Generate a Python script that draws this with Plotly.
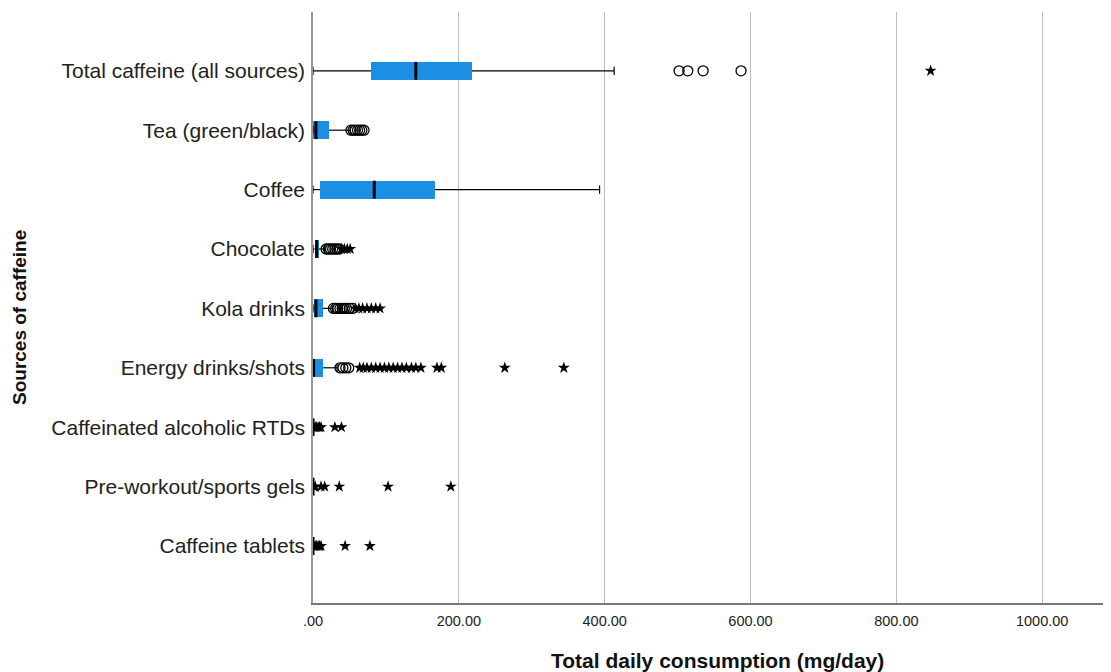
import plotly.graph_objects as go

# Categories (bottom to top in plot order)
categories = [
    "Caffeine tablets",
    "Pre-workout/sports gels",
    "Caffeinated alcoholic RTDs",
    "Energy drinks/shots",
    "Kola drinks",
    "Chocolate",
    "Coffee",
    "Tea (green/black)",
    "Total caffeine (all sources)",
]

# Box statistics (mg/day)
lower_whisker = [0, 0, 0, 0, 0, 0, 0, 0, 0]
q1 = [0, 0, 0, 0, 1, 2.5, 9.5, 0.5, 79.5]
median = [0, 0, 0, 0.8, 4, 5, 84, 4, 141]
q3 = [0, 0, 0, 14, 13.5, 8, 167, 22, 218]
upper_whisker = [0, 0, 0, 33, 27, 16, 393, 51, 413]

# Outliers (circles) and extremes (stars)
outliers = [
    [],
    [],
    [],
    [37, 41, 45, 49],
    [28, 31, 34, 37, 40, 43, 46, 50, 54],
    [18, 21, 24, 27, 30, 33, 36],
    [],
    [52, 55, 58, 61, 64, 67, 70],
    [502, 514, 535, 587],
]
extremes = [
    [1, 3, 5, 7, 9, 11, 44, 78],
    [1, 3, 11, 16, 36, 103, 189],
    [1, 3, 5, 7, 9, 11, 30, 39],
    [64, 69, 74, 80, 86, 92, 98, 104, 110, 116, 122, 128, 135, 141, 148, 170, 176, 263, 344],
    [58, 63, 68, 74, 80, 86, 92],
    [39, 43, 47, 51],
    [],
    [],
    [847],
]

xtick_vals = [0, 200, 400, 600, 800, 1000]
xtick_text = [".00", "200.00", "400.00", "600.00", "800.00", "1000.00"]

BLUE = "#1A8FE3"
idx = list(range(len(categories)))
BOX_H = 0.3
CAP_H = 0.07

fig = go.Figure()

# Box bodies
fig.add_trace(go.Bar(
    y=idx,
    x=[b - a for a, b in zip(q1, q3)],
    base=q1,
    orientation="h",
    width=BOX_H,
    marker=dict(color=BLUE, line=dict(width=0)),
    hoverinfo="skip",
    showlegend=False,
))

# Whiskers with caps
wx, wy = [], []
for i in idx:
    if upper_whisker[i] > q3[i]:
        wx += [q3[i], upper_whisker[i], None, upper_whisker[i], upper_whisker[i], None]
        wy += [i, i, None, i - CAP_H, i + CAP_H, None]
    if q1[i] > lower_whisker[i]:
        wx += [lower_whisker[i], q1[i], None, lower_whisker[i], lower_whisker[i], None]
        wy += [i, i, None, i - CAP_H, i + CAP_H, None]
fig.add_trace(go.Scatter(x=wx, y=wy, mode="lines",
                         line=dict(color="black", width=1.2),
                         hoverinfo="skip", showlegend=False))

# Medians
mx, my = [], []
for i in idx:
    mx += [median[i], median[i], None]
    my += [i - BOX_H / 2, i + BOX_H / 2, None]
fig.add_trace(go.Scatter(x=mx, y=my, mode="lines",
                         line=dict(color="black", width=3),
                         hoverinfo="skip", showlegend=False))

# Outlier circles
ox, oy = [], []
for i in idx:
    ox += outliers[i]
    oy += [i] * len(outliers[i])
fig.add_trace(go.Scatter(x=ox, y=oy, mode="markers",
                         marker=dict(symbol="circle-open", size=10,
                                     color="black", line=dict(width=1.3)),
                         showlegend=False))

# Extreme stars
ex, ey = [], []
for i in idx:
    ex += extremes[i]
    ey += [i] * len(extremes[i])
fig.add_trace(go.Scatter(x=ex, y=ey, mode="markers",
                         marker=dict(symbol="star", size=9, color="black",
                                     line=dict(width=0)),
                         showlegend=False))

# The page body adds an 8px offset; size the figure to fill the window
OFF = 8
W, H = 1111 - OFF, 672 - OFF
ML, MR, MT, MB = 313 - OFF, 1, 12 - OFF, 672 - 603

fig.update_layout(
    width=W, height=H,
    margin=dict(l=ML, r=MR, t=MT, b=MB),
    plot_bgcolor="white", paper_bgcolor="white",
    font=dict(family="Liberation Sans, Arial, sans-serif", color="#222"),
    bargap=0,
    xaxis=dict(
        range=[0, 1093],
        tickvals=xtick_vals, ticktext=xtick_text,
        tickfont=dict(size=14.5, color="#222"),
        showgrid=True, gridcolor="#bdbdbd", gridwidth=1,
        zeroline=False,
        showline=True, linecolor="#777", linewidth=1.5,
        ticks="", ticklabelstandoff=4,
    ),
    yaxis=dict(
        range=[-0.96, 8.99],
        tickvals=idx, ticktext=categories,
        tickfont=dict(size=21, color="#222"),
        showgrid=False, zeroline=False,
        showline=True, linecolor="#999", linewidth=1.5,
        ticks="", ticklabelstandoff=2,
    ),
)

plot_w = W - ML - MR
plot_h = H - MT - MB
fig.add_annotation(text="<b>Total daily consumption (mg/day)</b>",
                   x=(717 - 313) / plot_w, y=-(660 - 603) / plot_h,
                   xref="paper", yref="paper", xanchor="center", yanchor="middle",
                   showarrow=False, font=dict(size=21, color="#111"))
fig.add_annotation(text="<b>Sources of caffeine</b>",
                   x=(19 - 313) / plot_w, y=(603 - 318) / plot_h,
                   xref="paper", yref="paper", xanchor="center", yanchor="middle",
                   showarrow=False, textangle=-90, font=dict(size=19, color="#111"))

fig.write_html("out.html")
